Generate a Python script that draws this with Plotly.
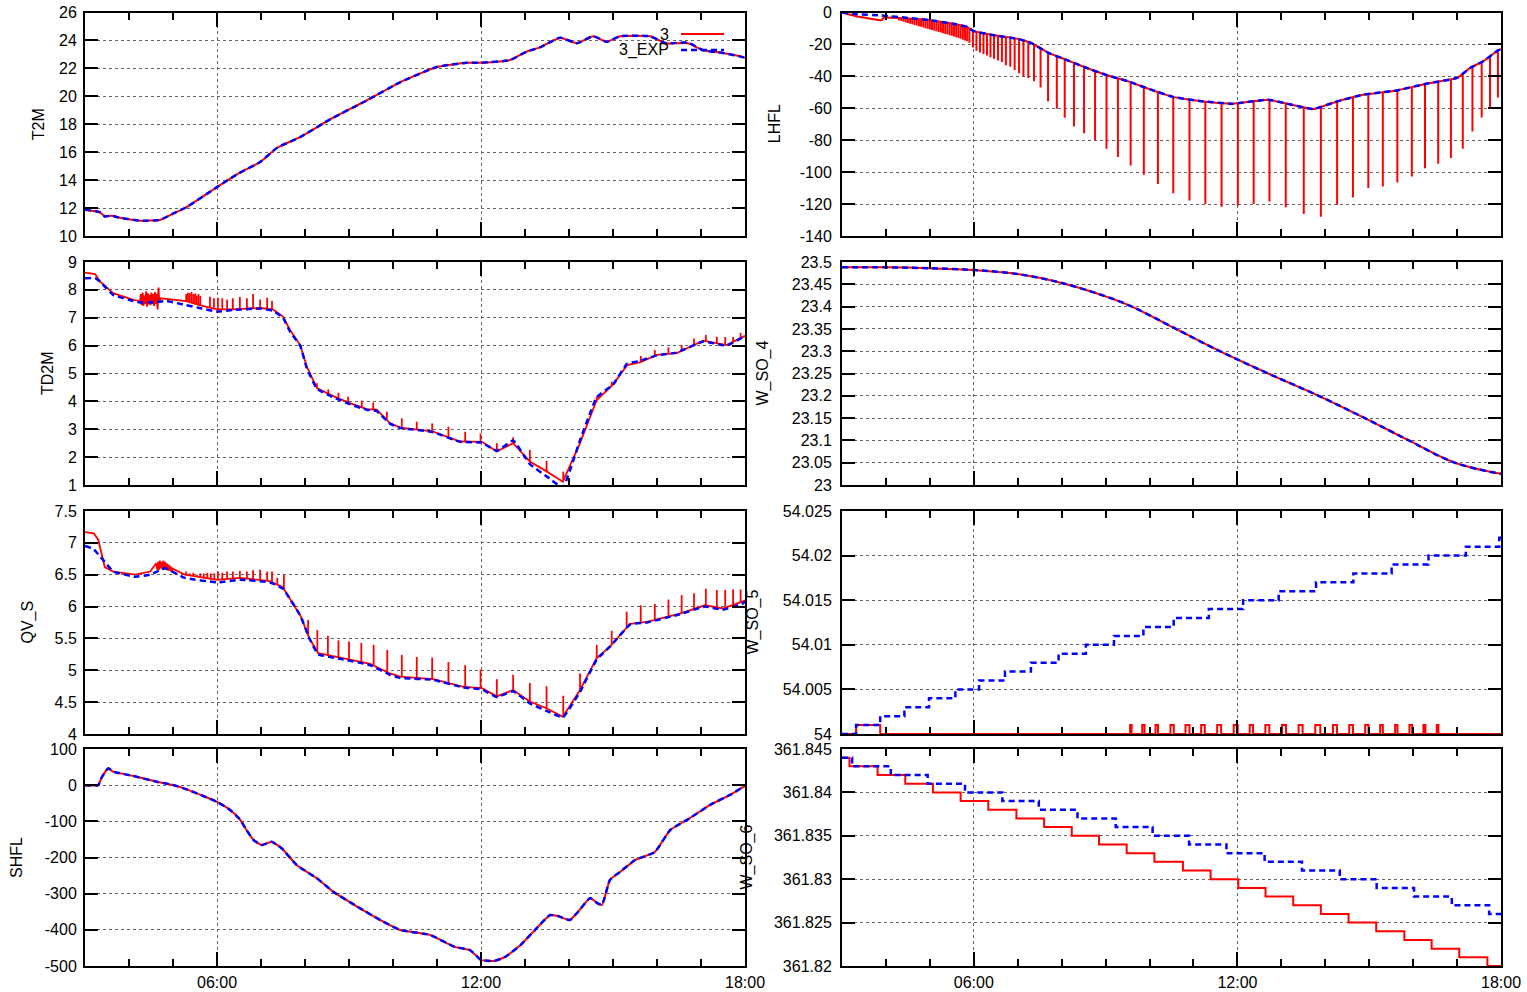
import numpy as np
import plotly.graph_objects as go

W, H = 1527, 992

# ---------------- data (time in hours) ----------------
# T2M
t2m_t = [3.0, 3.34, 3.45, 3.6, 3.8, 4.25, 4.7, 5.0, 5.3, 6.0, 6.5, 6.98, 7.36, 7.9, 8.6, 9.4, 10.16, 11.0, 11.68,
         12.0, 12.66, 13.04, 13.34, 13.8, 14.18, 14.55, 14.86, 15.16, 15.84, 16.2, 16.7, 17.05, 17.5, 17.96, 18.0]
t2m_v = [11.86, 11.7, 11.4, 11.45, 11.3, 11.1, 11.15, 11.6, 12.05, 13.5, 14.5, 15.3, 16.3, 17.1, 18.4, 19.7, 21.0,
         22.1, 22.4, 22.4, 22.6, 23.2, 23.5, 24.2, 23.8, 24.3, 23.9, 24.3, 24.3, 23.8, 23.8, 23.3, 23.1, 22.8, 22.75]
t2m_exp = [11.9, 11.7, 11.4, 11.45, 11.3, 11.1, 11.15, 11.6, 12.05, 13.5, 14.5, 15.3, 16.3, 17.1, 18.4, 19.7, 21.0,
           22.1, 22.4, 22.4, 22.6, 23.2, 23.5, 24.2, 23.8, 24.3, 23.9, 24.3, 24.3, 23.8, 23.85, 23.3, 23.1, 22.8, 22.75]

# TD2M (red includes fast oscillation 4.25-4.7 h)
td2m_t = [3.0, 3.23, 3.34, 3.64, 4.1, 4.25,
          4.27, 4.29, 4.31, 4.33, 4.35, 4.37, 4.39, 4.41, 4.43, 4.45, 4.47, 4.49, 4.51, 4.53, 4.55, 4.57, 4.59,
          4.61, 4.63, 4.65, 4.67, 4.69,
          4.72, 4.86, 5.3, 5.6, 6.0, 6.36, 6.98, 7.27, 7.5, 7.66, 7.89, 8.04, 8.27, 8.64, 9.02, 9.4, 9.63, 9.93,
          10.16, 10.9, 11.52, 12.02, 12.36, 12.73, 13.11, 13.5, 13.86, 14.25, 14.63, 15.0, 15.32, 15.61, 16.0,
          16.45, 17.05, 17.58, 17.95, 18.0]
td2m_v = [8.62, 8.57, 8.3, 7.88, 7.64, 7.6,
          7.85, 7.45, 7.9, 7.42, 7.8, 7.5, 7.95, 7.4, 7.88, 7.48, 7.82, 7.45, 7.9, 7.5, 7.85, 7.42, 7.92,
          7.5, 7.86, 7.3, 8.08, 7.55,
          7.7, 7.68, 7.6, 7.45, 7.3, 7.3, 7.35, 7.3, 7.04, 6.56, 6.02, 5.25, 4.48, 4.19, 3.94, 3.72, 3.7, 3.22,
          3.06, 2.92, 2.56, 2.55, 2.2, 2.5, 1.84, 1.48, 1.12, 2.5, 4.05, 4.6, 5.3, 5.4, 5.67,
          5.73, 6.18, 6.02, 6.32, 6.35]
td2m_exp_t = [3.0, 3.23, 3.34, 3.64, 4.1, 4.25, 4.5, 4.86, 5.3, 5.6, 6.0, 6.36, 6.98, 7.27, 7.5, 7.66, 7.89, 8.04,
              8.27, 8.64, 9.02, 9.4, 9.63, 9.93, 10.16, 10.9, 11.52, 12.02, 12.36, 12.73, 13.11, 13.5, 13.86,
              14.25, 14.63, 15.0, 15.32, 15.61, 16.0, 16.45, 17.05, 17.58, 17.95, 18.0]
td2m_exp_v = [8.42, 8.42, 8.3, 7.82, 7.6, 7.55, 7.55, 7.6, 7.45, 7.35, 7.22, 7.28, 7.33, 7.25, 7.0, 6.5, 6.0, 5.2,
              4.45, 4.15, 3.9, 3.7, 3.65, 3.2, 3.05, 2.9, 2.55, 2.52, 2.22, 2.6, 1.75, 1.3, 0.9,
              2.6, 4.15, 4.6, 5.35, 5.45, 5.65, 5.75, 6.15, 6.0, 6.3, 6.35]
td2m_spk_t = [5.3, 5.34, 5.38, 5.42, 5.46, 5.5, 5.54, 5.58, 5.62,
              5.84, 5.93, 6.02, 6.12, 6.23, 6.36, 6.52, 6.68, 6.82, 6.98, 7.14, 7.25,
              8.27, 8.53, 8.76, 8.98, 9.29, 9.55, 9.86, 10.2, 10.54, 10.89, 11.26, 11.64, 11.99, 12.36, 12.73,
              13.11, 13.49, 13.87, 14.25, 14.63, 14.97, 15.31, 15.63, 15.95, 16.26, 16.56, 16.84, 17.11, 17.36,
              17.55, 17.73, 17.9]
td2m_spk_v = [7.85, 7.9, 7.88, 7.92, 7.85, 7.87, 7.8, 7.85, 7.78,
              7.75, 7.7, 7.72, 7.7, 7.65, 7.7, 7.75, 7.7, 7.85, 7.65, 7.72, 7.6,
              4.65, 4.43, 4.31, 4.17, 4.03, 3.96, 3.63, 3.39, 3.27, 3.21, 3.09, 2.91, 2.85, 2.5, 2.71,
              2.26, 1.87, 1.48, 2.67, 4.17, 4.71, 5.37, 5.63, 5.84, 5.94, 6.02, 6.26, 6.38, 6.32,
              6.31, 6.31, 6.46]

# QV_S
qvs_t = [3.0, 3.2, 3.3, 3.45, 3.64, 4.14, 4.48,
         4.62, 4.64, 4.66, 4.68, 4.7, 4.72, 4.74, 4.76, 4.78, 4.8, 4.82, 4.84, 4.86, 4.88, 4.9, 4.92, 4.94, 4.96, 4.98,
         5.27, 6.0, 6.52, 7.2, 7.5, 7.9, 8.1, 8.3, 8.8, 9.48, 9.93, 10.16, 10.91, 11.6, 12.02, 12.36, 12.73,
         13.11, 13.5, 13.86, 14.25, 14.63, 14.93, 15.39, 15.77, 16.52, 17.09, 17.5, 17.95, 18.0]
qvs_v = [7.17, 7.15, 7.05, 6.62, 6.55, 6.5, 6.55,
         6.68, 6.58, 6.7, 6.57, 6.72, 6.6, 6.7, 6.58, 6.72, 6.6, 6.7, 6.58, 6.68, 6.57, 6.66, 6.56, 6.64, 6.55, 6.6,
         6.5, 6.42, 6.45, 6.4, 6.3, 5.85, 5.5, 5.27, 5.2, 5.1, 4.95, 4.9, 4.86, 4.74, 4.72, 4.59, 4.69,
         4.51, 4.4, 4.27, 4.69, 5.19, 5.37, 5.73, 5.76, 5.89, 6.02, 5.97, 6.08, 6.1]
qvs_exp_t = [3.0, 3.2, 3.3, 3.45, 3.64, 4.14, 4.48, 4.82, 5.27, 6.0, 6.52, 7.2, 7.5, 7.9, 8.1, 8.3, 8.8, 9.48,
             9.93, 10.16, 10.91, 11.6, 12.02, 12.36, 12.73, 13.11, 13.5, 13.86, 14.25, 14.63, 14.93, 15.39,
             15.77, 16.52, 17.09, 17.5, 17.95, 18.0]
qvs_exp_v = [6.95, 6.9, 6.82, 6.7, 6.55, 6.47, 6.5, 6.6, 6.45, 6.38, 6.42, 6.38, 6.28, 5.85, 5.5, 5.25, 5.18, 5.08,
             4.93, 4.88, 4.85, 4.73, 4.7, 4.58, 4.67, 4.48, 4.36, 4.26, 4.66, 5.17, 5.37, 5.72,
             5.75, 5.88, 6.0, 5.95, 6.05, 6.08]
qvs_spk_t = [5.3, 5.38, 5.46, 5.54, 5.62, 5.7, 5.78, 5.86, 5.94, 6.02, 6.12, 6.23, 6.36, 6.52, 6.68, 6.82, 6.98,
             7.14, 7.25, 7.37, 7.52, 7.69, 8.07, 8.28, 8.52, 8.76, 9.0, 9.28, 9.56, 9.87,
             10.2, 10.54, 10.89, 11.26, 11.64, 11.99, 12.36, 12.73, 13.11, 13.49, 13.87, 14.25, 14.63, 14.97,
             15.31, 15.63, 15.95, 16.26, 16.56, 16.84, 17.11, 17.36, 17.55, 17.73, 17.9]
qvs_spk_v = [6.55, 6.52, 6.53, 6.5, 6.52, 6.52, 6.53, 6.52, 6.52, 6.55, 6.53, 6.55, 6.55, 6.56, 6.55, 6.57, 6.58,
             6.55, 6.55, 6.45, 6.5, 6.05, 5.79, 5.63, 5.54, 5.47, 5.45, 5.43, 5.4, 5.32,
             5.24, 5.21, 5.2, 5.13, 5.08, 5.01, 4.86, 4.93, 4.8, 4.75, 4.6, 4.95, 5.4, 5.62,
             5.92, 6.02, 6.04, 6.11, 6.18, 6.21, 6.28, 6.26, 6.26, 6.27, 6.27]

# SHFL
shfl_t = [3.0, 3.3, 3.38, 3.53, 3.64, 4.1, 4.63, 5.0, 5.31, 5.69, 5.99, 6.3, 6.52, 6.67, 6.83, 7.02, 7.24, 7.47,
          7.81, 8.27, 8.64, 9.25, 9.78, 10.16, 10.84, 11.4, 11.75, 12.0, 12.3, 12.55, 12.9, 13.23, 13.57, 13.75,
          14.02, 14.2, 14.48, 14.64, 14.75, 14.93, 15.16, 15.5, 15.95, 16.3, 16.75, 17.2, 17.66, 18.0]
shfl_v = [0, 0, 21.7, 46.6, 37.3, 25.3, 9.7, 0.5, -11.5, -30, -45.6, -68.7, -94.5, -124, -151.6, -165.4, -156.3,
          -174.6, -220.7, -257.5, -294.5, -340.4, -377.5, -400.4, -414, -447, -456, -483, -486, -475, -442, -400,
          -359, -362, -373, -351, -312, -326, -331, -262, -240, -207, -185, -124, -91, -55, -27, -2]
shfl_exp = list(shfl_v)

# LHFL
lhfl_t = [3.0, 3.3, 3.9, 3.95, 4.5, 5.0, 5.5, 5.85, 6.0, 6.5, 7.0, 7.3, 7.7, 8.0, 8.5, 9.0, 9.5, 10.0, 10.55,
          11.23, 11.9, 12.7, 13.73, 14.27, 14.86, 15.63, 16.3, 17.0, 17.3, 17.6, 17.93, 18.0]
lhfl_v = [0, -2.2, -4.8, -3.2, -3.8, -4.8, -6.9, -9, -11.7, -14.4, -16.5, -19, -25.3, -28.5, -34, -39, -43, -48,
          -53, -55.7, -57.1, -54.6, -60.5, -55.7, -51.5, -48.8, -44.6, -41, -34.7, -30.5, -23.7, -23]
lhfl_exp = [0, -1.0, -1.9, -2.0, -3.4, -4.8, -6.9, -9, -11.7, -14.4, -16.5, -19, -25.3, -28.5, -34, -39, -43, -48,
            -53, -55.7, -57.1, -54.6, -60.5, -55.7, -51.5, -48.8, -44.6, -41, -34.7, -30.5, -23.7, -23]
lhfl_spk_t = [4.3, 4.35, 4.4, 4.45, 4.5, 4.55, 4.6, 4.65, 4.7, 4.75, 4.8, 4.85, 4.9, 4.95, 5.0, 5.05, 5.1, 5.15,
              5.2, 5.25, 5.3, 5.35, 5.4, 5.45, 5.5, 5.55, 5.6, 5.65, 5.7, 5.75, 5.8, 5.85, 5.9,
              5.98, 6.06, 6.14, 6.22, 6.3, 6.38, 6.46, 6.55, 6.64, 6.73, 6.83, 6.93, 7.03, 7.13, 7.24,
              7.37, 7.52, 7.69, 7.89, 8.07, 8.28, 8.51, 8.76, 9.02, 9.28, 9.57, 9.87,
              10.19, 10.54, 10.91, 11.27, 11.64, 12.01, 12.37, 12.73, 13.1, 13.51, 13.9, 14.27, 14.63, 14.98,
              15.31, 15.64, 15.97, 16.27, 16.57, 16.86, 17.13, 17.35, 17.56, 17.75, 17.93]
lhfl_spk_v = [-5.0, -5.4, -5.8, -6.2, -6.6, -7.0, -7.4, -7.8, -8.2, -8.6, -9.0, -9.4, -9.8, -10.2, -10.6, -11.0,
              -11.4, -11.8, -12.2, -12.6, -13.0, -13.4, -13.8, -14.2, -14.6, -15.0, -15.5, -16.0, -16.5, -17.0,
              -17.5, -18.0, -19.0,
              -22, -24, -25, -26, -27, -28, -29, -30, -31, -33, -34, -36, -38, -40, -41,
              -43, -47, -55.7, -60.3, -66, -71.4, -75.6, -80.1, -85.4, -90.5, -95.8, -101.7,
              -107.5, -113.2, -117.8, -119.9, -121.6, -121, -120, -118.4, -122, -126.2, -127.9, -120.5, -115.9, -110,
              -109, -106.5, -102.7, -97.5, -94.8, -91.2, -85.4, -74.5, -65.7, -59.8, -53.2]

# W_SO_4
w4_t = [3.0, 4.0, 5.0, 6.0, 7.0, 8.0, 9.0, 9.6, 10.6, 11.6, 12.7, 13.85, 14.9, 15.9, 16.95, 18.0]
w4_v = [23.488, 23.488, 23.486, 23.482, 23.473, 23.453, 23.423, 23.40, 23.35, 23.30, 23.25, 23.20, 23.15, 23.10,
        23.05, 23.025]
w4_exp = list(w4_v)

# W_SO_5 (step series)
w5_pulse_on = [3.32, 9.557, 9.834, 10.136, 10.477, 10.818, 11.175, 11.539, 11.916, 12.28, 12.636, 13.016, 13.393,
               13.773, 14.175, 14.545, 14.909, 15.25, 15.59, 15.916, 16.234, 16.539]
w5_pulse_off = [3.87, 9.591, 9.886, 10.193, 10.552, 10.909, 11.257, 11.63, 12.007, 12.357, 12.727, 13.107, 13.484,
                13.886, 14.266, 14.63, 14.984, 15.311, 15.643, 15.977, 16.28, 16.575]
w5_low, w5_high = 54.000, 54.001
w5_exp_t = [3.0, 3.32, 3.87, 4.42, 4.98, 5.58, 6.12, 6.71, 7.3, 7.93, 8.55, 9.19, 9.86, 10.55, 11.35, 12.13,
            12.94, 13.79, 14.64, 15.51, 16.35, 17.2, 17.96, 18.0]
w5_exp_v = [54.000, 54.001, 54.002, 54.003, 54.004, 54.005, 54.006, 54.007, 54.008, 54.009, 54.010, 54.011, 54.012,
            54.013, 54.014, 54.015, 54.016, 54.017, 54.018, 54.019, 54.020, 54.021, 54.022, 54.022]

# W_SO_6 (step series)
w6_t = [3.0, 3.17, 3.81, 4.44, 5.07, 5.70, 6.33, 6.97, 7.60, 8.23, 8.85, 9.48, 10.11, 10.76, 11.39, 12.02, 12.64,
        13.27, 13.90, 14.53, 15.16, 15.80, 16.42, 17.05, 17.69, 18.0]
w6_v = [361.844, 361.843, 361.842, 361.841, 361.840, 361.839, 361.838, 361.837, 361.836, 361.835, 361.834,
        361.833, 361.832, 361.831, 361.830, 361.829, 361.828, 361.827, 361.826, 361.825, 361.824, 361.823,
        361.822, 361.821, 361.820, 361.820]
w6_exp_t = [3.0, 3.23, 4.11, 4.95, 5.8, 6.65, 7.48, 8.36, 9.23, 10.07, 10.9, 11.75, 12.62, 13.47, 14.33, 15.17,
            16.02, 16.88, 17.73, 18.0]
w6_exp_v = [361.844, 361.843, 361.842, 361.841, 361.840, 361.839, 361.838, 361.837, 361.836, 361.835, 361.834,
            361.833, 361.832, 361.831, 361.830, 361.829, 361.828, 361.827, 361.826, 361.826]

# tick labels
x_tick_vals = [6, 12, 18]
x_tick_text = ["06:00", "12:00", "18:00"]
t2m_ticks = ["10", "12", "14", "16", "18", "20", "22", "24", "26"]
td2m_ticks = ["1", "2", "3", "4", "5", "6", "7", "8", "9"]
qvs_ticks = ["4", "4.5", "5", "5.5", "6", "6.5", "7", "7.5"]
shfl_ticks = ["-500", "-400", "-300", "-200", "-100", "0", "100"]
lhfl_ticks = ["-140", "-120", "-100", "-80", "-60", "-40", "-20", "0"]
w4_ticks = ["23", "23.05", "23.1", "23.15", "23.2", "23.25", "23.3", "23.35", "23.4", "23.45", "23.5"]
w5_ticks = ["54", "54.005", "54.01", "54.015", "54.02", "54.025"]
w6_ticks = ["361.82", "361.825", "361.83", "361.835", "361.84", "361.845"]

# ---------------- figure ----------------
RED, BLUE = "#ff0000", "#0000ff"
DASH = "6px,4px"
FONT = "Liberation Sans, Arial, Helvetica, sans-serif"
FS = 16

fig = go.Figure()

cols = {"L": (85, 745), "R": (842, 1501)}
rows = [(12.5, 236), (262, 485), (511, 734), (749, 966)]

panels = [
    # (col, row, ylabel, yticks, yrange, title_x)
    ("L", 0, "T2M", t2m_ticks, [10, 26], 38),
    ("R", 0, "LHFL", lhfl_ticks, [-140, 0], 774),
    ("L", 1, "TD2M", td2m_ticks, [1, 9], 47.5),
    ("R", 1, "W_SO_4", w4_ticks, [23, 23.5], 763),
    ("L", 2, "QV_S", qvs_ticks, [4, 7.5], 27),
    ("R", 2, "W_SO_5", w5_ticks, [54, 54.025], 752),
    ("L", 3, "SHFL", shfl_ticks, [-500, 100], 16.5),
    ("R", 3, "W_SO_6", w6_ticks, [361.82, 361.845], 746),
]

annotations = []
for i, (c, r, lab, ticks, yr, tx) in enumerate(panels, start=1):
    x0, x1 = cols[c]
    y0, y1 = rows[r]
    sfx = "" if i == 1 else str(i)
    bottom = (r == 3)
    fig.layout["xaxis" + sfx] = dict(
        domain=[x0 / W, x1 / W], range=[3, 18], anchor="y" + sfx, automargin=False,
        tickmode="array", tickvals=x_tick_vals, ticktext=x_tick_text, showticklabels=bottom,
        ticks="inside", ticklen=14, tickwidth=1.5, tickcolor="black", mirror="ticks",
        showline=True, linecolor="black", linewidth=2,
        showgrid=True, gridcolor="#666666", griddash="dot", gridwidth=1, zeroline=False,
        minor=dict(tickmode="linear", tick0=3, dtick=1, ticks="inside", ticklen=7, tickwidth=1.5,
                   tickcolor="black", showgrid=False),
        tickfont=dict(family=FONT, size=FS, color="black"), ticklabelstandoff=1,
    )
    fig.layout["yaxis" + sfx] = dict(
        domain=[1 - y1 / H, 1 - y0 / H], range=yr, anchor="x" + sfx, automargin=False,
        tickmode="array", tickvals=[float(s) for s in ticks], ticktext=ticks,
        ticks="inside", ticklen=13, tickwidth=1.5, tickcolor="black", mirror="ticks",
        showline=True, linecolor="black", linewidth=2,
        showgrid=True, gridcolor="#666666", griddash="dot", gridwidth=1, zeroline=False,
        tickfont=dict(family=FONT, size=FS, color="black"), ticklabelstandoff=(3 if c == "L" else 5),
    )
    annotations.append(dict(text=lab, x=tx / W, y=1 - (y0 + y1) / 2 / H, xref="paper", yref="paper",
                            textangle=-90, showarrow=False, xanchor="center", yanchor="middle",
                            font=dict(family=FONT, size=FS, color="black")))


def ax(i):
    return ("x" if i == 1 else "x%d" % i), ("y" if i == 1 else "y%d" % i)


def line(i, t, v, color, dash=None, width=2, shape="linear", smoothing=None):
    xa, ya = ax(i)
    ld = dict(color=color, width=width, dash=dash, shape=shape)
    if smoothing is not None:
        ld["smoothing"] = smoothing
    fig.add_trace(go.Scatter(x=t, y=v, mode="lines", xaxis=xa, yaxis=ya, showlegend=False,
                             line=ld, hoverinfo="skip"))


def spikes(i, st, sv, bt, bv, width=1.8):
    xs, ys = [], []
    for t, tip in zip(st, sv):
        foot = float(np.interp(t, bt, bv))
        xs += [t, t, None]
        ys += [foot, tip, None]
    line(i, xs, ys, RED, width=width)


SM = 0.5
# panel 1 T2M
line(1, t2m_t, t2m_v, RED, shape="spline", smoothing=SM)
line(1, t2m_t, t2m_exp, BLUE, DASH, 2.5, shape="spline", smoothing=SM)
# panel 2 LHFL
spikes(2, lhfl_spk_t, lhfl_spk_v, lhfl_t, lhfl_v, 2)
line(2, lhfl_t, lhfl_v, RED, shape="spline", smoothing=0.3)
line(2, lhfl_t, lhfl_exp, BLUE, DASH, 2.5, shape="spline", smoothing=0.3)
# panel 3 TD2M
line(3, td2m_t, td2m_v, RED, width=1.8)
spikes(3, td2m_spk_t, td2m_spk_v, td2m_t, td2m_v)
line(3, td2m_exp_t, td2m_exp_v, BLUE, DASH, 2.5, shape="spline", smoothing=0.3)
# panel 4 W_SO_4
line(4, w4_t, w4_v, RED, shape="spline")
line(4, w4_t, w4_exp, BLUE, DASH, 2.5, shape="spline")
# panel 5 QV_S
line(5, qvs_t, qvs_v, RED, width=1.8)
spikes(5, qvs_spk_t, qvs_spk_v, qvs_t, qvs_v)
line(5, qvs_exp_t, qvs_exp_v, BLUE, DASH, 2.5, shape="spline", smoothing=0.3)
# panel 6 W_SO_5
w5_t, w5_v = [3.0], [w5_low]
for on, off in zip(w5_pulse_on, w5_pulse_off):
    w5_t += [on, off]
    w5_v += [w5_high, w5_low]
w5_t.append(18.0)
w5_v.append(w5_low)
line(6, w5_t, w5_v, RED, shape="hv")
line(6, w5_exp_t, w5_exp_v, BLUE, DASH, 2.5, shape="hv")
# panel 7 SHFL
line(7, shfl_t, shfl_v, RED, shape="spline", smoothing=0.4)
line(7, shfl_t, shfl_exp, BLUE, DASH, 2.5, shape="spline", smoothing=0.4)
# panel 8 W_SO_6
line(8, w6_t, w6_v, RED, shape="hv")
line(8, w6_exp_t, w6_exp_v, BLUE, DASH, 2.5, shape="hv")

# legend (key) in T2M panel
annotations.append(dict(text="3", x=671 / W, y=1 - 34 / H, xref="paper", yref="paper", showarrow=False,
                        xanchor="right", yanchor="middle", font=dict(family=FONT, size=FS, color="black")))
annotations.append(dict(text="3_EXP", x=671 / W, y=1 - 50 / H, xref="paper", yref="paper", showarrow=False,
                        xanchor="right", yanchor="middle", font=dict(family=FONT, size=FS, color="black")))
shapes = [
    dict(type="line", xref="paper", yref="paper", x0=681 / W, x1=724 / W, y0=1 - 34 / H, y1=1 - 34 / H,
         line=dict(color=RED, width=2)),
    dict(type="line", xref="paper", yref="paper", x0=681 / W, x1=724 / W, y0=1 - 50 / H, y1=1 - 50 / H,
         line=dict(color=BLUE, width=2.5, dash=DASH)),
]

fig.update_layout(width=W, height=H, autosize=False, margin=dict(l=0, r=0, t=0, b=0, autoexpand=False),
                  paper_bgcolor="white", plot_bgcolor="white", annotations=annotations, shapes=shapes,
                  font=dict(family=FONT, size=FS, color="black"))

fig.write_html("out.html", config={"displayModeBar": False},
               post_script="document.body.style.margin='0';")
